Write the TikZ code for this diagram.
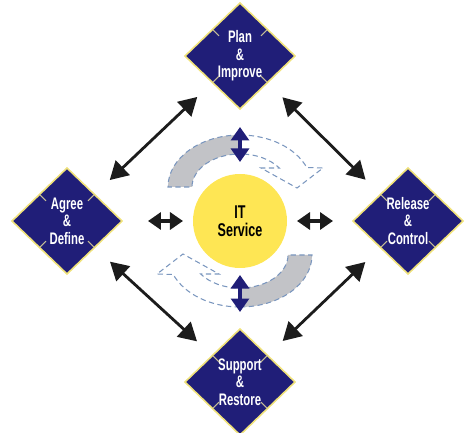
\documentclass[tikz,border=0pt]{standalone}
\usepackage{fontspec}
\newfontfamily\condsans{Liberation Sans}[FakeStretch=0.68]
\usepackage{tikz}
\usetikzlibrary{arrows.meta, shapes.geometric, calc}
\definecolor{navy}{RGB}{32, 30, 120}
\definecolor{rim}{RGB}{240, 226, 122}
\definecolor{crease}{RGB}{196, 188, 150}
\definecolor{sun}{RGB}{254, 230, 84}
\definecolor{bandgray}{RGB}{194, 195, 199}
\definecolor{bandline}{RGB}{122, 150, 190}
\definecolor{ink}{RGB}{28, 28, 28}

\begin{document}
\begin{tikzpicture}[
  diam/.style={diamond, draw=rim, line width=0.9pt, fill=navy, text=white,
               minimum width=2.2cm, minimum height=2.12cm, inner sep=0pt, outer sep=0pt,
               align=center, font=\condsans\bfseries\fontsize{9.5}{10}\selectfont},
  hub/.style={circle, fill=sun, minimum size=1.88cm, inner sep=0pt, outer sep=0pt,
              align=center, font=\condsans\bfseries\fontsize{10.5}{10.5}\selectfont},
  creaseline/.style={crease, line width=0.6pt},
  arr/.style={{Triangle[length=0.36cm, width=0.4cm]}-{Triangle[length=0.36cm, width=0.4cm]},
              line width=1.6pt, ink, shorten <=0.42cm, shorten >=0.42cm},
  sarr/.style={{Triangle[length=0.26cm, width=0.34cm]}-{Triangle[length=0.26cm, width=0.34cm]},
               line width=2.4pt, ink},
  varr/.style={{Triangle[length=0.27cm, width=0.36cm]}-{Triangle[length=0.27cm, width=0.36cm]},
               line width=1.8pt, navy},
  band/.style={draw=bandline, line width=0.6pt, dash pattern=on 3pt off 2pt}
]
  \useasboundingbox (-4.8, -4.24) rectangle (4.58, 4.42);

  \foreach \turn in {0, 180} {
    \begin{scope}[rotate=\turn]
      \path[band, fill=bandgray] (0, 1.72) arc[start angle=90, end angle=180, x radius=1.44, y radius=1.04]
        -- (-0.96, 0.68) arc[start angle=180, end angle=90, x radius=0.96, y radius=0.66] -- cycle;
      \path[band] (0, 1.72) arc[start angle=90, end angle=22, x radius=1.44, y radius=1.04]
        -- (1.66, 1.06) -- (1.14, 0.66) -- (0.42, 1.06)
        -- (0.786, 1.06) arc[start angle=35, end angle=90, x radius=0.96, y radius=0.66] -- cycle;
    \end{scope}
  }

  \node[diam] (plan) at (0, 3.3) {Plan\\\&\\Improve};
  \node[diam] (agree) at (-3.46, 0) {Agree\\\&\\Define};
  \node[diam] (release) at (3.36, 0) {Release\\\&\\Control};
  \node[diam] (support) at (0, -3.22) {Support\\\&\\Restore};
  \node[hub] (service) at (0, 0) {IT\\Service};

  \foreach \d in {plan, agree, release, support}
    \foreach \a in {north east, north west, south east, south west}
      \draw[creaseline] ($(\d.center)!0.76!(\d.\a)$) -- ($(\d.center)!0.98!(\d.\a)$);

  \draw[arr] (plan.south west) -- (agree.north east);
  \draw[arr] (plan.south east) -- (release.north west);
  \draw[arr] (agree.south east) -- (support.north west);
  \draw[arr] (support.north east) -- (release.south west);

  \draw[sarr, shorten <=0.52cm, shorten >=0.2cm] (agree.east) -- (service.west);
  \draw[sarr, shorten <=0.2cm, shorten >=0.4cm] (service.east) -- (release.west);

  \draw[varr, shorten <=0.36cm, shorten >=0.24cm] (plan.south) -- (service.north);
  \draw[varr, shorten <=0.14cm, shorten >=0.34cm] (service.south) -- (support.north);
\end{tikzpicture}
\end{document}
